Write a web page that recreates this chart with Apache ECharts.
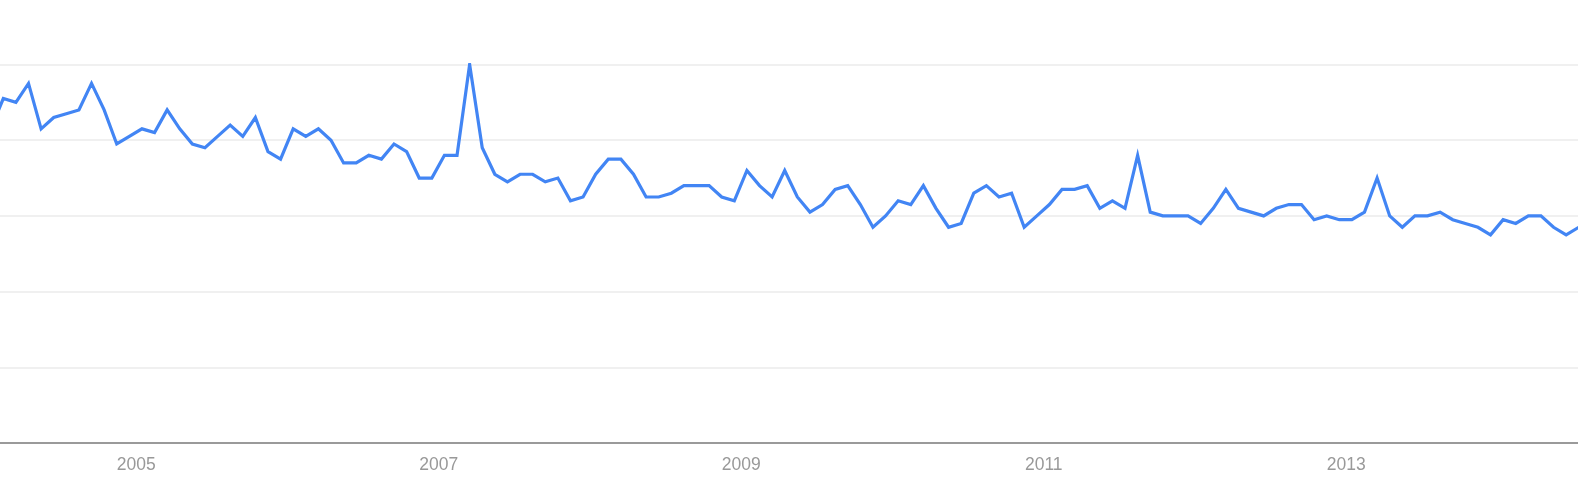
<!DOCTYPE html>
<html>
<head>
<meta charset="utf-8">
<script src="https://cdn.jsdelivr.net/npm/echarts@6/dist/echarts.min.js"></script>
<style>
  html, body { margin: 0; padding: 0; background: #ffffff; }
  #chart { width: 1578px; height: 500px; }
</style>
</head>
<body>
<div id="chart"></div>
<script>
// Monthly interest values, January 2004 through July 2014
var firstYear = 2004;
var values2004 = [83, 91, 90, 95, 83, 86, 87, 88, 95, 88, 79, 81];
var values2005 = [83, 82, 88, 83, 79, 78, 81, 84, 81, 86, 77, 75];
var values2006 = [83, 81, 83, 80, 74, 74, 76, 75, 79, 77, 70, 70];
var values2007 = [76, 76, 100, 78, 71, 69, 71, 71, 69, 70, 64, 65];
var values2008 = [71, 75, 75, 71, 65, 65, 66, 68, 68, 68, 65, 64];
var values2009 = [72, 68, 65, 72, 65, 61, 63, 67, 68, 63, 57, 60];
var values2010 = [64, 63, 68, 62, 57, 58, 66, 68, 65, 66, 57, 60];
var values2011 = [63, 67, 67, 68, 62, 64, 62, 76, 61, 60, 60, 60];
var values2012 = [58, 62, 67, 62, 61, 60, 62, 63, 63, 59, 60, 59];
var values2013 = [59, 61, 70, 60, 57, 60, 60, 61, 59, 58, 57, 55];
var values2014 = [59, 58, 60, 60, 57, 55, 57];
var yearLabels = [2005, 2007, 2009, 2011, 2013];

var yearly = [values2004, values2005, values2006, values2007, values2008, values2009,
              values2010, values2011, values2012, values2013, values2014];

// Each monthly value is placed mid-month on a continuous year axis
var points = [];
yearly.forEach(function (arr, yi) {
  arr.forEach(function (v, m) {
    points.push([firstYear + yi + (m + 0.45) / 12, v]);
  });
});

var chart = echarts.init(document.getElementById('chart'), null, { renderer: 'canvas' });
chart.setOption({
  animation: false,
  backgroundColor: '#ffffff',
  grid: { left: 0, right: 0, top: 64.5, bottom: 57, containLabel: false },
  xAxis: {
    type: 'value',
    min: 2004.099,
    max: 2014.5325,
    axisLine: { show: true, lineStyle: { color: '#9a9a9a', width: 2 } },
    axisTick: { show: false },
    splitLine: { show: false },
    axisLabel: {
      customValues: yearLabels,
      formatter: function (v) { return String(Math.round(v)); },
      color: '#999999',
      fontFamily: 'Liberation Sans, Arial, sans-serif',
      fontSize: 17.5,
      margin: 13.5
    }
  },
  yAxis: {
    type: 'value',
    min: 0,
    max: 100,
    interval: 20,
    axisLine: { show: false },
    axisTick: { show: false },
    axisLabel: { show: false },
    splitLine: { show: true, lineStyle: { color: '#ebebeb', width: 1.5 } }
  },
  series: [{
    type: 'line',
    data: points,
    showSymbol: false,
    clip: true,
    lineStyle: { color: '#4285f4', width: 3.2, join: 'miter' },
    itemStyle: { color: '#4285f4' }
  }]
});
</script>
</body>
</html>
